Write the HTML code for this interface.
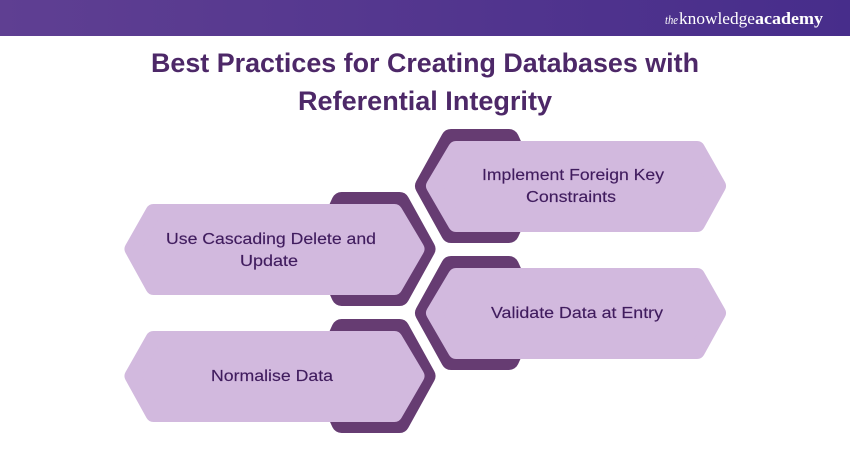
<!DOCTYPE html>
<html lang="en">
<head>
<meta charset="utf-8">
<title>Best Practices for Creating Databases with Referential Integrity</title>
<style>
html,body{margin:0;padding:0;background:#fff}
svg{display:block}
text{font-family:"Liberation Sans",sans-serif}
.t{fill:#401c5e;font-size:16px;stroke:#401c5e;stroke-width:.15}
.h{fill:#4d2868;font-size:27px;font-weight:bold}
.l{fill:#fff;font-family:"Liberation Serif",serif;font-size:17px}
.d{fill:#663c72;stroke:#663c72;stroke-width:20;stroke-linejoin:round}
.p{fill:#d2b9de;stroke:#d2b9de;stroke-width:16;stroke-linejoin:round}
</style>
</head>
<body>
<svg width="850" height="450" viewBox="0 0 850 450" xmlns="http://www.w3.org/2000/svg">
<defs>
<linearGradient id="g" x1="0" x2="1" y1="0" y2="0">
<stop offset="0" stop-color="#5f3f92"/>
<stop offset="1" stop-color="#472d8b"/>
</linearGradient>
</defs>
<rect width="850" height="450" fill="#fff"/>
<rect width="850" height="36" fill="url(#g)"/>
<text class="l" y="24" x="665" font-style="italic" textLength="13" lengthAdjust="spacingAndGlyphs" style="font-size:13px">the</text>
<text class="l" y="24" x="679" textLength="76" lengthAdjust="spacingAndGlyphs">knowledge</text>
<text class="l" y="24" x="755" font-weight="bold" textLength="68" lengthAdjust="spacingAndGlyphs">academy</text>

<text class="h" x="151" y="72" textLength="548" lengthAdjust="spacingAndGlyphs">Best Practices for Creating Databases with</text>
<text class="h" x="298" y="110" textLength="254" lengthAdjust="spacingAndGlyphs">Referential Integrity</text>

<g>
<polygon class="d" points="425,186 451,139 509,139 514,150 514,222 509,233 451,233"/>
<polygon class="p" points="434,186 456,149 697,149 718,186 697,224 456,224"/>
</g>
<g transform="translate(0,127)">
<polygon class="d" points="425,186 451,139 509,139 514,150 514,222 509,233 451,233"/>
<polygon class="p" points="434,186 456,149 697,149 718,186 697,224 456,224"/>
</g>
<g transform="translate(850.5,63) scale(-1,1)">
<polygon class="d" points="425,186 451,139 509,139 514,150 514,222 509,233 451,233"/>
<polygon class="p" points="434,186 456,149 697,149 718,186 697,224 456,224"/>
</g>
<g transform="translate(850.5,190) scale(-1,1)">
<polygon class="d" points="425,186 451,139 509,139 514,150 514,222 509,233 451,233"/>
<polygon class="p" points="434,186 456,149 697,149 718,186 697,224 456,224"/>
</g>

<text class="t" x="482" y="180" textLength="182" lengthAdjust="spacingAndGlyphs">Implement Foreign Key</text>
<text class="t" x="526" y="202" textLength="90" lengthAdjust="spacingAndGlyphs">Constraints</text>
<text class="t" x="166" y="244" textLength="210" lengthAdjust="spacingAndGlyphs">Use Cascading Delete and</text>
<text class="t" x="240" y="266" textLength="58" lengthAdjust="spacingAndGlyphs">Update</text>
<text class="t" x="491" y="318" textLength="172" lengthAdjust="spacingAndGlyphs">Validate Data at Entry</text>
<text class="t" x="211" y="381" textLength="122" lengthAdjust="spacingAndGlyphs">Normalise Data</text>
</svg>
</body>
</html>
